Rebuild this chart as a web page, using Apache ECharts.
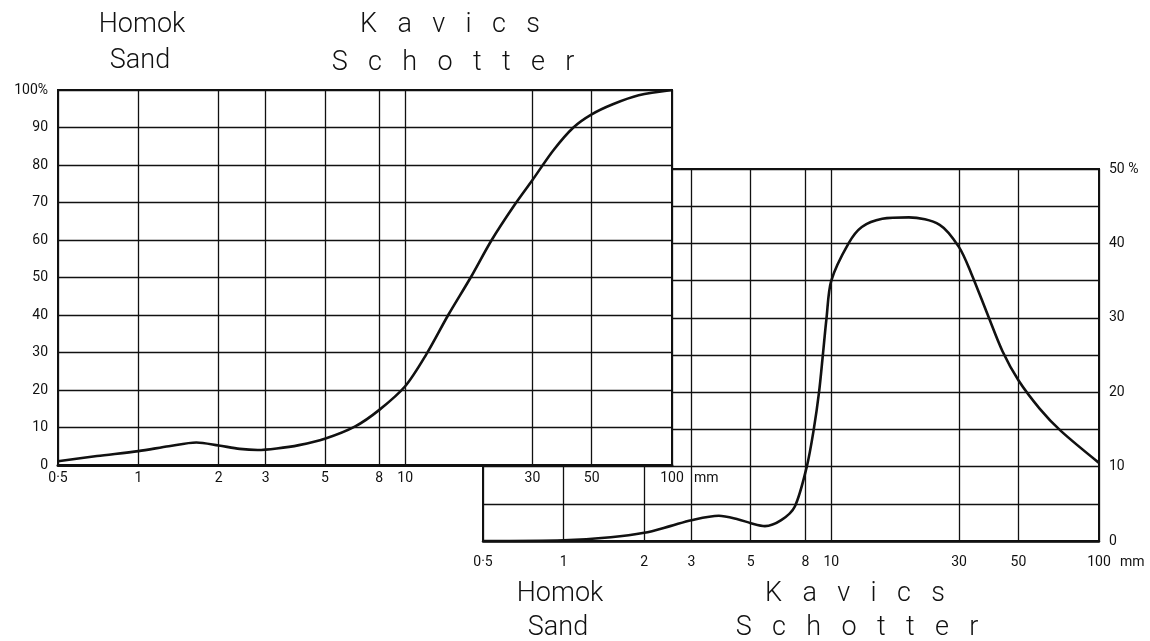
<!DOCTYPE html>
<html>
  <head>
    <meta charset="utf-8" />
    <title>Homok / Kavics</title>
    <style>
      body {
        margin: 0;
        padding: 0;
        background: #fff;
      }
      #chart {
        width: 1150px;
        height: 641px;
      }
    </style>
    <script src="https://cdn.jsdelivr.net/npm/echarts@6/dist/echarts.min.js"></script>
  </head>

  <body>
    <div id="chart"></div>
  </body>
  <script>
    // grain sizes (mm) marked on both x axes
    const sizeTicks = [0.5, 1, 2, 3, 5, 8, 10, 30, 50, 100];
    const sizeLabels = ["0·5", "1", "2", "3", "5", "8", "10", "30", "50", "100"];

    // left chart: cumulative passing, [mm, %]
    const sumCurve = [
      [0.5, 1.0], [0.7, 2.4], [1, 3.7], [1.3, 5.0], [1.65, 6.0], [2, 5.2],
      [2.4, 4.3], [2.8, 4.0], [3.3, 4.4], [4, 5.3], [5, 7.0], [6.5, 10.3],
      [8, 14.7], [10, 21], [12, 29.5], [14.5, 40], [17.6, 50], [21.1, 60],
      [25.5, 69], [30, 76], [36, 84], [42.7, 90], [50, 93.5], [60, 96.2],
      [75, 98.6], [100, 100],
    ];

    // right chart: fraction per size, [mm, %]
    const freqCurve = [
      [0.5, 0], [1, 0.1], [1.5, 0.5], [2, 1.1], [2.5, 2.0], [3, 2.8],
      [3.8, 3.4], [4.5, 2.9], [5, 2.4], [5.65, 2.0], [6.5, 2.8], [7.3, 4.6],
      [8.1, 10], [8.6, 15], [9.0, 20], [9.3, 25], [9.6, 30], [10, 35],
      [11.6, 40], [13, 42.2], [15.5, 43.3], [19.5, 43.5], [25.4, 42.5],
      [30, 39.5], [33.3, 36], [38.3, 30.5], [43.6, 25.5], [50, 21.6],
      [60, 17.8], [72, 14.8], [100, 10.5],
    ];

    const ink = "#111";
    const face = "Roboto, 'DejaVu Sans', sans-serif";
    const tickFont = { color: ink, fontFamily: face, fontSize: 14 };

    function sizeLabel(v) {
      let i = sizeTicks.findIndex((t) => Math.abs(t - v) < 1e-6);
      return i < 0 ? "" : sizeLabels[i];
    }

    function sizeAxis(gridIndex, z, margin, nameGap, lineWidth) {
      return {
        type: "log",
        logBase: 10,
        gridIndex: gridIndex,
        min: 0.5,
        max: 100,
        z: z,
        name: "mm",
        nameLocation: "end",
        nameGap: nameGap,
        nameTextStyle: Object.assign({}, tickFont, {
          verticalAlign: "top",
          padding: [margin, 0, 0, 0],
        }),
        axisLine: { show: true, lineStyle: { color: ink, width: lineWidth } },
        axisTick: { show: false, customValues: sizeTicks },
        axisLabel: Object.assign({}, tickFont, {
          customValues: sizeTicks,
          margin: margin,
          formatter: sizeLabel,
        }),
        splitLine: { show: true, lineStyle: { color: ink, width: 1.3 } },
        minorTick: { show: false },
        minorSplitLine: { show: false },
      };
    }

    function title(text, x, y) {
      return {
        type: "text",
        x: x,
        y: y,
        z: 20,
        style: {
          text: text,
          font: "300 27px " + face,
          fill: ink,
          align: "center",
          textAlign: "center",
          verticalAlign: "middle",
          textVerticalAlign: "middle",
        },
      };
    }

    const gap = "\u2002 ";
    const spaced = (w) => w.split("").join(gap);

    const option = {
      animation: false,
      backgroundColor: "#fff",
      textStyle: { fontFamily: face },
      grid: [
        {
          left: 58, top: 90, width: 614, height: 375,
          show: true, backgroundColor: "#fff",
          borderColor: ink, borderWidth: 2,
          z: 10, outerBoundsMode: "none",
        },
        {
          left: 483, top: 169, width: 616, height: 372,
          show: true, backgroundColor: "#fff",
          borderColor: ink, borderWidth: 2,
          z: 0, outerBoundsMode: "none",
        },
      ],
      xAxis: [sizeAxis(0, 11, 6, 22, 3), sizeAxis(1, 1, 14, 21, 2.5)],
      yAxis: [
        {
          type: "value",
          gridIndex: 0,
          min: 0,
          max: 100,
          interval: 10,
          z: 11,
          axisLine: { show: false },
          axisTick: { show: false },
          axisLabel: Object.assign({}, tickFont, {
            margin: 10,
            formatter: (v) => (v === 100 ? "100%" : String(v)),
          }),
          splitLine: { show: true, lineStyle: { color: ink, width: 1.3 } },
        },
        {
          type: "value",
          gridIndex: 1,
          position: "right",
          min: 0,
          max: 50,
          interval: 5,
          z: 1,
          axisLine: { show: false },
          axisTick: { show: false },
          axisLabel: Object.assign({}, tickFont, {
            margin: 10,
            formatter: (v) => (v % 10 ? "" : v === 50 ? "50 %" : String(v)),
          }),
          splitLine: { show: true, lineStyle: { color: ink, width: 1.3 } },
        },
      ],
      series: [
        {
          type: "line",
          xAxisIndex: 1,
          yAxisIndex: 1,
          data: freqCurve,
          smooth: 0.3,
          symbol: "none",
          silent: true,
          z: 3,
          lineStyle: { color: ink, width: 2.6 },
        },
        {
          type: "line",
          xAxisIndex: 0,
          yAxisIndex: 0,
          data: sumCurve,
          smooth: 0.3,
          symbol: "none",
          silent: true,
          z: 12,
          lineStyle: { color: ink, width: 2.6 },
        },
      ],
      graphic: [
        title("Homok", 142, 25),
        title("Sand", 140, 61),
        title(spaced("Kavics"), 450, 25),
        title(spaced("Schotter"), 453, 63),
        title("Homok", 560, 594),
        title("Sand", 558, 628),
        title(spaced("Kavics"), 855, 594),
        title(spaced("Schotter"), 857, 628),
      ],
    };

    const chart = echarts.init(document.getElementById("chart"));
    chart.setOption(option);
  </script>
</html>
